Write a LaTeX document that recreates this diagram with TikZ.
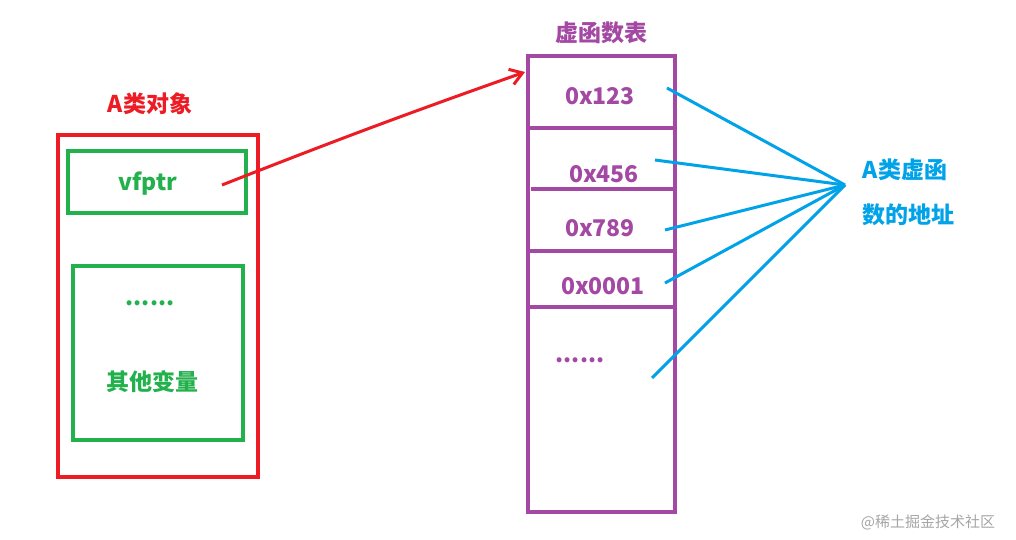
\documentclass[tikz,border=0pt]{standalone}
\usepackage{fontspec}
\setmainfont{Noto Sans CJK SC}
\usetikzlibrary{arrows.meta}
\definecolor{pred}{HTML}{ED1C24}
\definecolor{pgreen}{HTML}{22B14C}
\definecolor{ppurple}{HTML}{A349A4}
\definecolor{pblue}{HTML}{00A2E8}
\tikzset{
 lbl/.style={font=\bfseries\fontsize{23}{27}\selectfont},
 box/.style={line width=3.5pt},
 bl/.style={pblue,line width=3pt},
}
\begin{document}
\begin{tikzpicture}[x=1pt,y=-1pt]
\useasboundingbox[fill=white] (0,0) rectangle (1016,540);
\node[lbl,text=pred] (ta) at (150,104) {A类对象};
\draw[box,pred] (58,135) rectangle (258,477);
\draw[box,pgreen] (68,151) rectangle (246,213);
\node[lbl,text=pgreen] (vf) at (148,184) {vfptr};
\draw[box,pgreen] (73,266) rectangle (243,440);
\node[lbl,text=pgreen] (d1) at (150,303) {......};
\node[lbl,text=pgreen] (ot) at (152,382) {其他变量};
\coordinate (vs) at (222,185);
\coordinate (ve) at (525,72);
\draw[pred,line width=3pt,-{Straight Barb[length=12pt,width=16pt]}] (vs) to[bend left=1] (ve);
\node[lbl,text=ppurple] (tt) at (601,33) {虚函数表};
\draw[box,ppurple] (528,56) rectangle (675,512);
\draw[box,ppurple] (528,128) -- (673,128);
\draw[box,ppurple] (531,189) -- (675,189);
\draw[box,ppurple] (528,251) -- (673,251);
\draw[box,ppurple] (528,307) -- (675,307);
\node[lbl,text=ppurple] (a1) at (600,96) {0x123};
\node[lbl,text=ppurple] (a2) at (604,174) {0x456};
\node[lbl,text=ppurple] (a3) at (600,228) {0x789};
\node[lbl,text=ppurple] (a4) at (603,286) {0x0001};
\node[lbl,text=ppurple] (a5) at (580,360) {......};
\coordinate (hub) at (845,185);
\coordinate (p1) at (667,88);
\coordinate (p2) at (655,160);
\coordinate (p3) at (665,230);
\coordinate (p4) at (665,283);
\coordinate (p5) at (652,378);
\foreach \p in {p1,p2,p3,p4,p5} \draw[bl] (hub) -- (\p);
\node[lbl,text=pblue] (b1) at (905,170) {A类虚函};
\node[lbl,text=pblue] (b2) at (908,215) {数的地址};
\node[text=gray!70,font=\fontsize{15}{17}\selectfont] (wm) at (928,522) {@稀土掘金技术社区};
\end{tikzpicture}
\end{document}
